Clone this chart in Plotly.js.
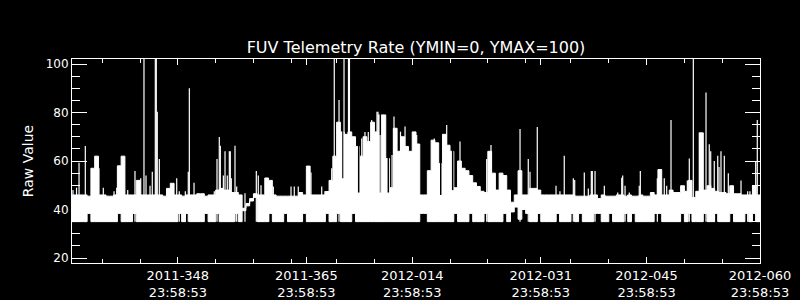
<!DOCTYPE html>
<html><head><meta charset="utf-8">
<script src="https://cdn.plot.ly/plotly-3.0.1.min.js"></script>
<style>html,body{margin:0;padding:0;background:#000;}#chart{width:800px;height:300px;}</style>
</head><body><div id="chart"></div>
<script>
// Time window (IDL style day-of-year labels)
const startTime = '2011-11-30 23:58:53';
const endTime = '2012-02-29 23:58:53';
const binDays = 0.5;

// Upper edge of the dense telemetry band, one value per half-day bin
const bandHigh = [
46,46,46,46,45.5,57,62,46,46,45.5,
45.5,46,58,62,46,46,46,52,46,46,
46,46,46,46,45.5,48.7,50.8,46,46,45.5,
46,46,46,46.5,46.5,45.5,46,46,48,48.7,
48,48,47,47,46,40.5,42.5,44.5,46.5,46,
46,53,52,46,45.5,45.5,45.5,45.5,45.5,45.5,
47,46,57.9,46,46,46,46,47.4,52,62,
76,72,71,72,70,66,62,70,68,76,
72,79,79,61,49,73.5,64,70,66,64,
72,67,46,46,56,68.6,67.5,59,71,66.5,
64,49,60,57,56,54,51,49.5,47.5,47,
64,55,48,55,54,48,43,46,56,46,
46,48.7,48.7,48,46,46,46,46,46,46,
46,46,46,45.5,45.5,45.5,45.5,46,46,44.5,
46,45.5,45.5,45.5,46,46,45.5,46,45.5,45.5,
46,45.5,45.5,47,46,56.5,46,46,48,47,
47,49.8,47.5,52,45,47.5,71.6,48,49.8,48.7,
47.5,47,47,46.5,49.8,46.5,46.5,46,46,46,
49.8,46
];

// Lower edge of the band, same bins
const bandLow = [
35,35,35,35,38.4,35,35,35,35,35,
35,35,38.4,35,35,35,38.4,35,35,35,
35,35,35,35,35,35,35,35,38.4,35,
38.4,35,35,35,35,38.4,35,35,38.4,35,
35,35,35,38.4,35,39.5,41.5,43.5,45,35,
35,35,38.4,35,35,35,38.4,35,35,35,
35,38.4,35,35,35,35,35,38.4,35,35,
38.4,35,35,35,38.4,35,35,35,35,35,
35,35,35,35,35,35,35,35,35,35,
35,35,38.4,38.4,35,35,35,35,35,35,
35,38.4,35,35,35,38.4,35,35,35,38.4,
35,35,35,35,38.4,35,39,41,36,40,
38.4,35,35,38.4,35,35,35,35,38.4,35,
35,35,38.4,35,38.4,35,35,35,38.4,38.4,
35,35,38.4,35,35,35,38.4,35,38.4,35,
35,35,35,35,38.4,38.4,35,35,35,35,
35,38.4,35,38.4,35,35,35,38.4,35,35,
38.4,35,35,35,38.4,35,35,35,38.4,35,
38.4,35
];

// Isolated spikes: days after start, raw value
const spikeDay = [
0.13,0.60,0.93,1.76,3.57,4.14,5.56,5.91,6.80,7.37,
8.33,9.09,9.52,9.79,10.32,10.62,11.02,11.15,11.28,11.55,
13.85,14.19,14.99,15.38,15.52,16.14,18.82,19.18,19.48,19.62,
20.02,20.24,20.54,20.81,20.94,21.07,21.56,21.78,22.88,24.38,
24.64,25.00,26.02,26.63,28.97,29.40,29.93,31.61,33.03,33.46,
34.35,34.69,35.32,35.98,36.57,36.70,38.32,38.75,39.19,39.64,
40.34,40.47,40.74,42.33,42.59,43.45,49.56,54.85,59.26,60.35,
60.58,61.54,64.02,64.54,65.11,66.31,66.49,67.76,68.29,68.69,
68.82,69.18,70.41,72.18,72.71,72.84,73.15,73.71,75.03,75.17,
77.42,78.34,78.66,79.23,81.39,81.65,82.18,82.97,83.86,84.29,
84.48,84.95,85.41,85.58,85.84,86.28,86.81,88.49,89.37,89.67,
90.43,90.64,44.05,45.59,47.92,51.32,55.42
];
const spikeValue = [
48,49,59.3,66.2,57,49,47.5,49,55.6,48,
55.9,52.9,105,54,49.8,55.6,105,105,80.3,60.8,
52.9,47.5,47.5,55.6,90,51,47.5,60.8,69.9,66.3,
54,64,54,64,64,52.9,66.3,49.5,46.7,55.9,
54,50,51.7,49.5,49.5,49.5,49.5,55.3,49.5,47.5,
57,105,85.2,105,105,105,69.3,72,72,76.9,
80.3,80.3,70.7,62.5,78.3,72.1,74.8,60.8,73.2,60.8,
55.6,74,49.8,47.5,62.2,52.9,52.2,55.3,48.7,55.9,
55.9,55.9,49.8,47,53.1,54,49.8,47,49.8,55.9,
52.9,52.9,49.8,76.9,52,61,105,71.8,88.2,66.9,
64,60,62.2,57.5,64,62.2,55,52,47.5,47.5,
59.7,76.9,74.2,70.7,69.3,68,66.6
];

// Narrow dropouts inside the busy interval: days after start, value reached
const dipDay = [35.84,37.92,40.78,41.84,48.77,50.35];
const dipValue = [52.9,47,47,47,46,48];

const tickTimes = ['2011-12-14 23:58:53','2011-12-31 23:58:53','2012-01-14 23:58:53',
                   '2012-01-31 23:58:53','2012-02-14 23:58:53','2012-02-29 23:58:53'];
const tickLabels = ['2011-348<br>23:58:53','2011-365<br>23:58:53','2012-014<br>23:58:53',
                    '2012-031<br>23:58:53','2012-045<br>23:58:53','2012-060<br>23:58:53'];
const minorTickTimes = ['2011-12-04 23:58:53','2011-12-09 23:58:53','2011-12-19 23:58:53',
  '2011-12-24 23:58:53','2011-12-29 23:58:53','2012-01-04 23:58:53','2012-01-09 23:58:53',
  '2012-01-19 23:58:53','2012-01-24 23:58:53','2012-01-29 23:58:53','2012-02-04 23:58:53',
  '2012-02-09 23:58:53','2012-02-19 23:58:53','2012-02-24 23:58:53'];
const yTicks = [20,40,60,80,100];

const t0 = Date.UTC(2011,10,30,23,58,53);
function toTime(d){
  return new Date(t0 + d*86400000).toISOString().slice(0,19).replace('T',' ');
}

const bx = [], bhi = [], blo = [];
for (let i = 0; i <= bandHigh.length; i++) {
  const k = Math.min(i, bandHigh.length - 1);
  bx.push(toTime(i*binDays));
  bhi.push(bandHigh[k]);
  blo.push(bandLow[k]);
}
const sx = [], sy = [];
for (let i = 0; i < spikeDay.length; i++) {
  const t = toTime(spikeDay[i]);
  sx.push(t, t, null);
  sy.push(35, spikeValue[i], null);
}
const dx = [], dy = [];
for (let i = 0; i < dipDay.length; i++) {
  const t = toTime(dipDay[i]);
  dx.push(t, t, null);
  dy.push(dipValue[i], 103, null);
}

const data = [
  {x: bx, y: blo, type:'scatter', mode:'lines', line:{color:'#fff', width:1, shape:'hv'}, hoverinfo:'skip'},
  {x: bx, y: bhi, type:'scatter', mode:'lines', line:{color:'#fff', width:1, shape:'hv'},
   fill:'tonexty', fillcolor:'#fff', hoverinfo:'skip'},
  {x: dx, y: dy, type:'scatter', mode:'lines', line:{color:'#000', width:1.5}, hoverinfo:'skip'},
  {x: sx, y: sy, type:'scatter', mode:'lines', line:{color:'#fff', width:1.2}, hoverinfo:'skip'}
];

const layout = {
  width: 800, height: 300,
  paper_bgcolor:'#000', plot_bgcolor:'#000',
  margin:{l:72, r:40, t:59, b:37},
  showlegend:false,
  font:{family:'DejaVu Sans', color:'#fff', size:12},
  title:{text:'FUV Telemetry Rate (YMIN=0, YMAX=100)', font:{size:16, color:'#fff'},
         x:0.5, xref:'paper', xanchor:'center', y:0.841, yref:'container', yanchor:'middle'},
  xaxis:{type:'date', range:[startTime, endTime], showline:true, linecolor:'#fff', linewidth:1,
         mirror:'allticks', ticks:'inside', ticklen:6, tickwidth:1, tickcolor:'#fff',
         tickmode:'array', tickvals:tickTimes, ticktext:tickLabels, tickfont:{size:13},
         showgrid:false, zeroline:false,
         minor:{tickmode:'array', tickvals:minorTickTimes, ticks:'inside', ticklen:4, tickcolor:'#fff', showgrid:false}},
  yaxis:{range:[17.94, 102.06], showline:true, linecolor:'#fff', linewidth:1,
         mirror:'allticks', ticks:'inside', ticklen:15, tickwidth:1, tickcolor:'#fff',
         tickmode:'array', tickvals:yTicks, tickfont:{size:12},
         showgrid:false, zeroline:false,
         minor:{tickmode:'linear', tick0:0, dtick:5, ticks:'inside', ticklen:8, tickcolor:'#fff', showgrid:false},
         title:{text:'Raw Value', font:{size:14}, standoff:8}}
};

Plotly.newPlot('chart', data, layout, {staticPlot:true});
</script></body></html>
